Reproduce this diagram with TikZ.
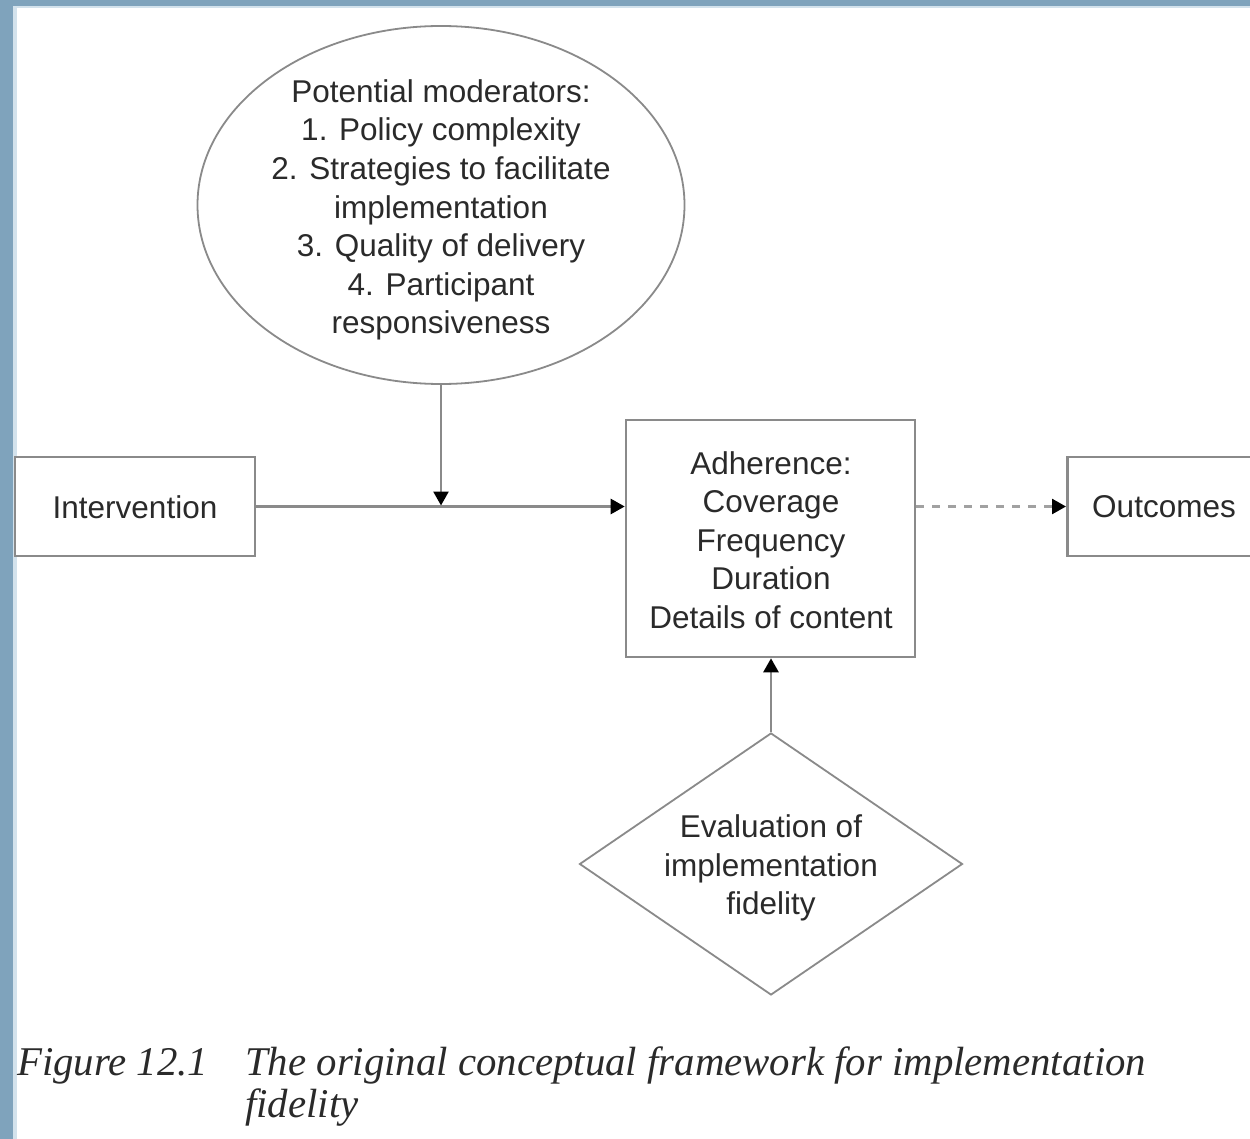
\documentclass[tikz,border=0pt]{standalone}
\usepackage{fontspec}
\setmainfont{Liberation Serif}
\setsansfont{Liberation Sans}
\usetikzlibrary{shapes.geometric,arrows.meta}
\definecolor{frameblue}{HTML}{7FA3BC}
\definecolor{framelight}{HTML}{D3E2EC}
\definecolor{linegray}{HTML}{8A8A8A}
\definecolor{txtgray}{HTML}{2A2A2A}
\tikzset{
  lbl/.style={font=\sffamily\fontsize{31.5}{38.6}\selectfont, text=txtgray, align=center, inner sep=0pt},
  boxnode/.style={draw=linegray, line width=2.6pt, fill=white, inner sep=0pt},
  conn/.style={draw=linegray, line width=2.6pt},
  tiparrow/.style={-{Triangle[length=14pt,width=15pt,color=black]}},
  captext/.style={font=\rmfamily\itshape\fontsize{40.8}{46}\selectfont, text=txtgray, inner sep=0pt, anchor=base west}
}
\begin{document}
\begin{tikzpicture}[x=1pt,y=-1pt]
\useasboundingbox (0,0) rectangle (1250,1139);
\begin{scope}
\clip (0,0) rectangle (1250,1139);
\fill[white] (0,0) rectangle (1250,1139);
% frame
\fill[framelight] (13,6) rectangle (17,1139);
\fill[framelight] (13,6) rectangle (1250,8);
\fill[frameblue] (0,0) rectangle (1250,6);
\fill[frameblue] (0,0) rectangle (13,1139);

% nodes
\node[draw=linegray, line width=1.8pt, ellipse, minimum width=487pt, minimum height=358pt, inner sep=0pt] (mod) at (441,205) {};
\node[lbl] (modtxt) at (441,210) {Potential moderators:\\1. Policy complexity\\2. Strategies to facilitate\\implementation\\3. Quality of delivery\\4. Participant\\responsiveness};

\node[boxnode, minimum width=240pt, minimum height=99pt] (int) at (135,506.5) {};
\node[lbl] (inttxt) at (135,507) {Intervention};

\node[boxnode, minimum width=289pt, minimum height=237pt] (adh) at (770.5,538.5) {};
\node[lbl] (adhtxt) at (771,540) {Adherence:\\Coverage\\Frequency\\Duration\\Details of content};

\node[boxnode, minimum width=200pt, minimum height=99pt, anchor=west] (out) at (1066,506.5) {};
\node[lbl] (outtxt) at (1164,507) {Outcomes};

\node[draw=linegray, line width=1.8pt, diamond, minimum width=383pt, minimum height=262pt, inner sep=0pt] (eval) at (771,864) {};
\node[lbl] (evaltxt) at (771,868) {Evaluation of\\implementation\\fidelity};

\coordinate (junc) at (441,506.5);

% connectors
\draw[conn, tiparrow] (int.east) -- (int.east -| adh.west);
\draw[conn, tiparrow, shorten >=1pt] (mod.south) -- (junc);
\draw[conn, tiparrow, dash pattern=on 8pt off 8pt, draw=linegray!80] (out.west -| adh.east) -- (out.west);
\draw[conn, tiparrow] (eval.north) -- (eval.north |- adh.south);

% caption
\node[captext] (fig) at (17,1075) {Figure 12.1};
\node[captext] (captxt) at (245,1075) {The original conceptual framework for implementation};
\node[captext] (captxt2) at (245,1117) {fidelity};
\end{scope}
\end{tikzpicture}
\end{document}
